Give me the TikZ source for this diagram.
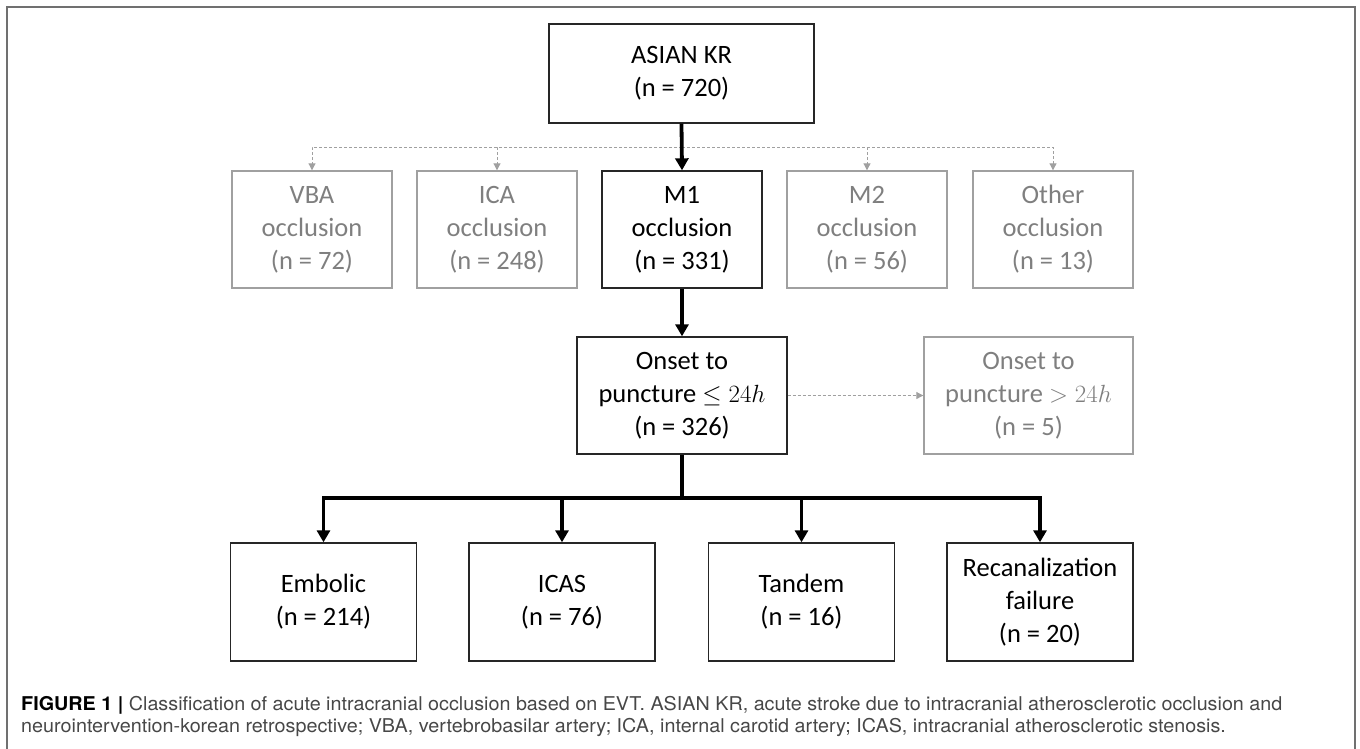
\documentclass[tikz,border=0pt]{standalone}
\usepackage{fontspec}
\setmainfont{Carlito}
\newfontfamily\capfont[FakeStretch=1.04]{TeX Gyre Heros}
\usetikzlibrary{arrows.meta}
\definecolor{gtext}{HTML}{7F7F7F}
\definecolor{gline}{HTML}{A0A0A0}
\definecolor{frame}{HTML}{707070}
\tikzset{
  bbox/.style={draw=black!85, line width=1.4pt, align=center, inner sep=0pt, font=\fontsize{26.5}{33}\selectfont},
  gbox/.style={draw=gline, line width=1.4pt, text=gtext, align=center, inner sep=0pt, font=\fontsize{26.5}{33}\selectfont},
  thk/.style={line width=3.8pt, black},
  thkarrow/.style={thk, -{Triangle[width=13pt,length=12pt]}},
  gdash/.style={gline, line width=1pt, dash pattern=on 3pt off 2pt, -{Triangle[width=7pt,length=7pt]}},
}
\begin{document}
\begin{tikzpicture}[x=1pt,y=-1pt]
\useasboundingbox (0,0) rectangle (1360,748);
\draw[frame, line width=1.5pt] (7,760) -- (7,7) -- (1355,7) -- (1355,760);
% top
\node[bbox, minimum width=265pt, minimum height=99pt] (asian) at (681.5,73.5) {ASIAN KR\\(n = 720)};
% row 2
\node[gbox, minimum width=160pt, minimum height=117pt] (vba) at (312,229.5) {VBA\\occlusion\\(n = 72)};
\node[gbox, minimum width=160pt, minimum height=117pt] (ica) at (497,229.5) {ICA\\occlusion\\(n = 248)};
\node[bbox, minimum width=160pt, minimum height=117pt] (m1) at (682,229.5) {M1\\occlusion\\(n = 331)};
\node[gbox, minimum width=160pt, minimum height=117pt] (m2) at (867,229.5) {M2\\occlusion\\(n = 56)};
\node[gbox, minimum width=160pt, minimum height=117pt] (oth) at (1053,229.5) {Other\\occlusion\\(n = 13)};
% row 3
\node[bbox, minimum width=210pt, minimum height=117pt] (onset) at (682,395.5) {Onset to\\puncture $\leq 24h$\\(n = 326)};
\node[gbox, minimum width=209pt, minimum height=117pt] (onsetgt) at (1028.5,395.5) {Onset to\\puncture $> 24h$\\(n = 5)};
% row 4
\node[bbox, minimum width=186pt, minimum height=118pt] (emb) at (323.5,602) {Embolic\\(n = 214)};
\node[bbox, minimum width=186pt, minimum height=118pt] (icas) at (562,602) {ICAS\\(n = 76)};
\node[bbox, minimum width=186pt, minimum height=118pt] (tan) at (801.5,602) {Tandem\\(n = 16)};
\node[bbox, minimum width=186pt, minimum height=118pt] (rec) at (1040,602) {Recanalization\\failure\\(n = 20)};
% dashed split
\coordinate (dsplit) at (682,147);
\draw[gdash] (dsplit) -| (vba.north);
\draw[gdash] (dsplit) -| (ica.north);
\draw[gdash] (dsplit) -| (m2.north);
\draw[gdash] (dsplit) -| (oth.north);
\draw[thkarrow] (asian.south) -- (m1.north);
\draw[thkarrow] (m1.south) -- (onset.north);
\draw[gdash] (onset.east) -- (onsetgt.west);
% bottom bus
\coordinate (bus) at (682,498);
\draw[thk] (onset.south) -- (bus);
\draw[thkarrow] (bus) -| (emb.north);
\draw[thkarrow] (bus) -| (icas.north);
\draw[thkarrow] (bus) -| (tan.north);
\draw[thkarrow] (bus) -| (rec.north);
% caption
\node[anchor=base west, align=left, inner sep=0pt, text=black!72, font=\capfont\fontsize{19}{22}\selectfont] (cap) at (21,732)
 {\textbf{\color{black}FIGURE 1 |} Classification of acute intracranial occlusion based on EVT. ASIAN KR, acute stroke due to intracranial atherosclerotic occlusion and\\
 neurointervention-korean retrospective; VBA, vertebrobasilar artery; ICA, internal carotid artery; ICAS, intracranial atherosclerotic stenosis.};
\end{tikzpicture}
\end{document}
